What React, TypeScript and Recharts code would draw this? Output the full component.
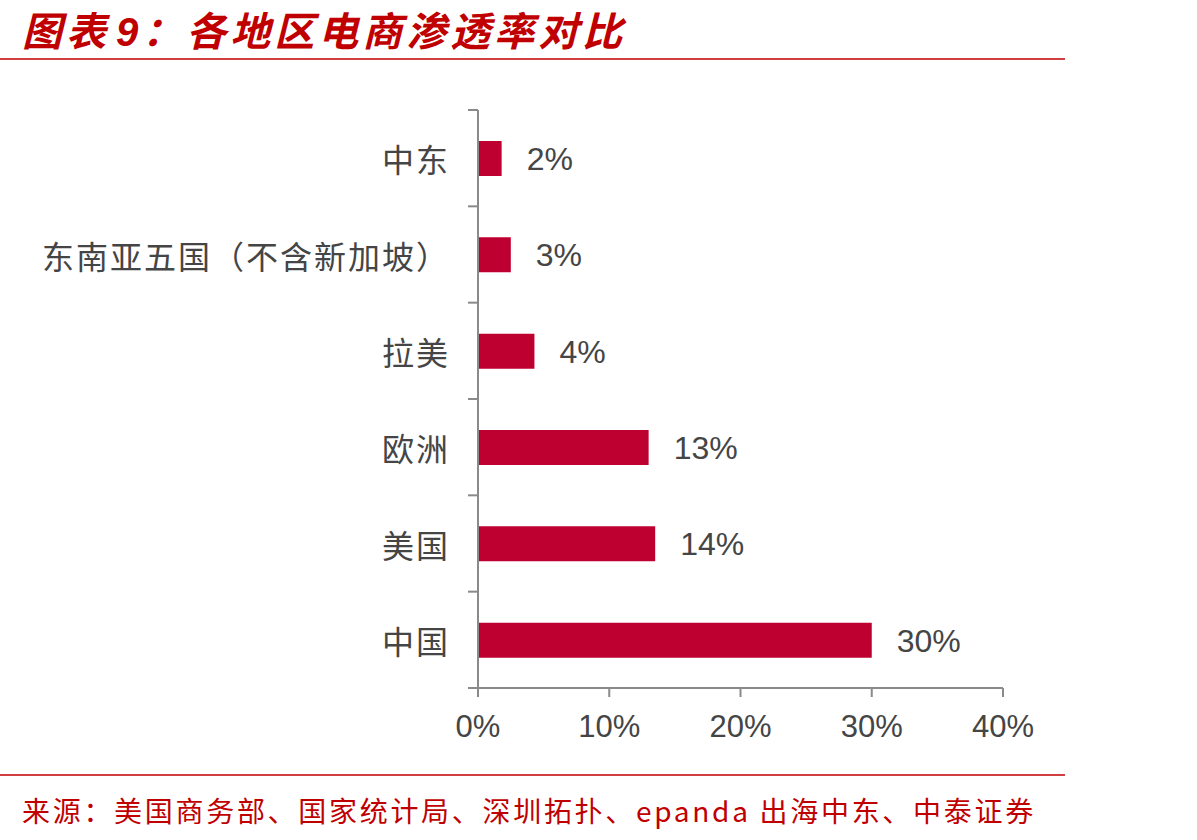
import React from "react";
import { BarChart, Bar, XAxis, YAxis, LabelList } from "recharts";

// 各地区电商渗透率（%）
const regions = ["中东", "东南亚五国（不含新加坡）", "拉美", "欧洲", "美国", "中国"];
const penetration = [1.8, 2.5, 4.3, 13.0, 13.5, 30.0];
const xTicks = [0, 10, 20, 30, 40];

const data = regions.map((name, i) => ({ name, value: penetration[i] }));

const W = 1197;
const H = 840;
const M = { top: 110, right: 194, bottom: 92, left: 0 };
const Y_AXIS_W = 478;
const X_AXIS_H = 60;
const plotH = H - M.top - M.bottom - X_AXIS_H;
const halfBand = plotH / regions.length / 2;

const AXIS = "#8a8a8a";
const TEXT = "#454545";
const RED = "#C00000";
const CJK = '"Noto Sans CJK SC", "Liberation Sans", sans-serif';
const LATIN = '"Liberation Sans", Arial, sans-serif';

function CategoryTick(props: any) {
  const { x, y, payload, index } = props;
  const axisX = x + 28;
  return (
    <g>
      {index === 0 && (
        <line x1={axisX - 10} x2={axisX} y1={y - halfBand} y2={y - halfBand} stroke={AXIS} strokeWidth={2} />
      )}
      <line x1={axisX - 10} x2={axisX} y1={y + halfBand} y2={y + halfBand} stroke={AXIS} strokeWidth={2} />
      <text
        x={x}
        y={y}
        textAnchor="end"
        dominantBaseline="central"
        fill={TEXT}
        fontSize={32}
        letterSpacing={2}
        fontFamily={CJK}
      >
        {payload.value}
      </text>
    </g>
  );
}

export default function App() {
  return (
    <div style={{ position: "absolute", left: 0, top: 0, width: W, height: H, background: "#fff" }}>
      <div
        style={{
          position: "absolute",
          left: 22,
          top: 0,
          fontFamily: CJK,
          fontSize: 40,
          fontWeight: 700,
          fontStyle: "italic",
          color: RED,
          letterSpacing: 4,
          whiteSpace: "nowrap",
        }}
      >
        图表<span style={{ fontFamily: LATIN, marginLeft: 6 }}>9</span>：各地区电商渗透率对比
      </div>
      <div style={{ position: "absolute", left: 0, top: 58, width: 1065, height: 1.5, background: "#d04040" }} />

      <BarChart
        width={W}
        height={H}
        data={data}
        layout="vertical"
        margin={M}
        barSize={35}
      >
        <XAxis
          type="number"
          domain={[0, 40]}
          ticks={xTicks}
          tickFormatter={(v: number) => `${v}%`}
          height={X_AXIS_H}
          stroke={AXIS}
          strokeWidth={2}
          tickSize={9}
          tickMargin={18}
          tick={{ fill: TEXT, fontSize: 31, fontFamily: LATIN }}
        />
        <YAxis
          type="category"
          dataKey="name"
          width={Y_AXIS_W}
          stroke={AXIS}
          strokeWidth={2}
          tickSize={0}
          tickMargin={28}
          tickLine={false}
          interval={0}
          tick={<CategoryTick />}
        />
        <Bar dataKey="value" fill="#BE0030" isAnimationActive={false}>
          <LabelList
            dataKey="value"
            position="right"
            offset={25}
            formatter={(v: any) => `${Math.round(Number(v))}%`}
            fill={TEXT}
            fontSize={32}
            fontFamily={LATIN}
          />
        </Bar>
      </BarChart>

      <div style={{ position: "absolute", left: 0, top: 774, width: 1065, height: 1.5, background: "#d04040" }} />
      <div
        style={{
          position: "absolute",
          left: 22,
          top: 790,
          fontFamily: CJK,
          fontSize: 28,
          color: RED,
          letterSpacing: 2.7,
          whiteSpace: "nowrap",
        }}
      >
        来源：美国商务部、国家统计局、深圳拓扑、epanda 出海中东、中泰证券
      </div>
    </div>
  );
}
